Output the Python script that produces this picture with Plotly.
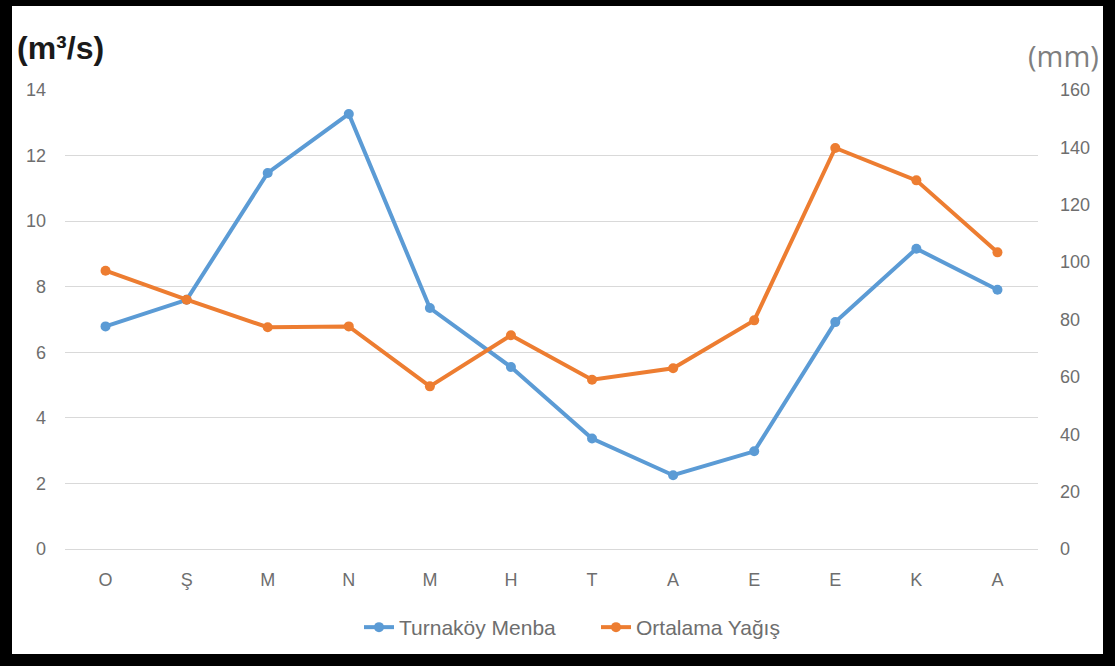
import plotly.graph_objects as go

# Months (hydrological year, October to September)
months = ["O", "Ş", "M", "N", "M", "H", "T", "A", "E", "E", "K", "A"]
# Mean monthly discharge at Turnaköy spring (m³/s)
turnakoy_menba = [6.79, 7.60, 11.47, 13.27, 7.35, 5.55, 3.37, 2.25, 2.98, 6.92, 9.16, 7.91]
# Mean monthly precipitation (mm)
ortalama_yagis = [97.0, 86.9, 77.3, 77.6, 56.7, 74.5, 59.0, 63.0, 79.7, 139.8, 128.5, 103.4]

left_ticks = [0, 2, 4, 6, 8, 10, 12, 14]
right_ticks = [0, 20, 40, 60, 80, 100, 120, 140, 160]

BLUE = "#5B9BD5"
ORANGE = "#ED7D31"
TICK = "#6E6E6E"
FONT = "Liberation Sans"

x = list(range(len(months)))

fig = go.Figure()
fig.add_trace(go.Scatter(
    x=x, y=turnakoy_menba, name="Turnaköy Menba", mode="lines+markers",
    line=dict(color=BLUE, width=4), marker=dict(color=BLUE, size=10),
))
fig.add_trace(go.Scatter(
    x=x, y=ortalama_yagis, name="Ortalama Yağış", mode="lines+markers",
    line=dict(color=ORANGE, width=4), marker=dict(color=ORANGE, size=10),
    yaxis="y2",
))

fig.update_layout(
    width=1115, height=666,
    margin=dict(l=65, r=77, t=90, b=117),
    paper_bgcolor="black",
    plot_bgcolor="white",
    font=dict(family=FONT, color=TICK, size=18),
    showlegend=True,
    legend=dict(
        orientation="h", x=(359 - 65) / 973, xanchor="left", y=-0.171, yanchor="middle",
        font=dict(size=21, color=TICK), bgcolor="rgba(0,0,0,0)",
        itemwidth=30, entrywidth=192,
    ),
    xaxis=dict(
        range=[-0.5, 11.5], tickmode="array", tickvals=x, ticktext=months,
        showgrid=False, zeroline=False, showline=False, ticks="",
        ticklabelstandoff=18, tickfont=dict(size=18, color=TICK),
        fixedrange=True,
    ),
    yaxis=dict(
        range=[0, 14], tickmode="array", tickvals=left_ticks,
        showgrid=True, gridcolor="#D9D9D9", gridwidth=1,
        zeroline=True, zerolinecolor="#D9D9D9", zerolinewidth=1,
        showline=False, ticks="", ticklabelstandoff=18,
        tickfont=dict(size=18, color=TICK),
    ),
    yaxis2=dict(
        range=[0, 160], tickmode="array", tickvals=right_ticks,
        overlaying="y", side="right", showgrid=False, zeroline=False,
        showline=False, ticks="", ticklabelstandoff=21,
        tickfont=dict(size=18, color=TICK),
    ),
    shapes=[dict(
        type="rect", xref="paper", yref="paper", layer="below",
        x0=(12 - 65) / 973, x1=(1103 - 65) / 973,
        y0=(549 - 654) / 459, y1=(549 - 6) / 459,
        fillcolor="white", line=dict(width=0),
    )],
    annotations=[
        dict(text="<b>(m³/s)</b>", xref="paper", yref="paper",
             x=(15 - 65) / 973, y=(549 - 48) / 459, xanchor="left", yanchor="middle",
             showarrow=False, font=dict(size=32, color="#1a1a1a", family=FONT)),
        dict(text="(mm)", xref="paper", yref="paper",
             x=(1101 - 65) / 973, y=(549 - 56) / 459, xanchor="right", yanchor="middle",
             showarrow=False, font=dict(size=29, color="#7F7F7F", family="Open Sans")),
    ],
)

fig.write_html("out.html")
